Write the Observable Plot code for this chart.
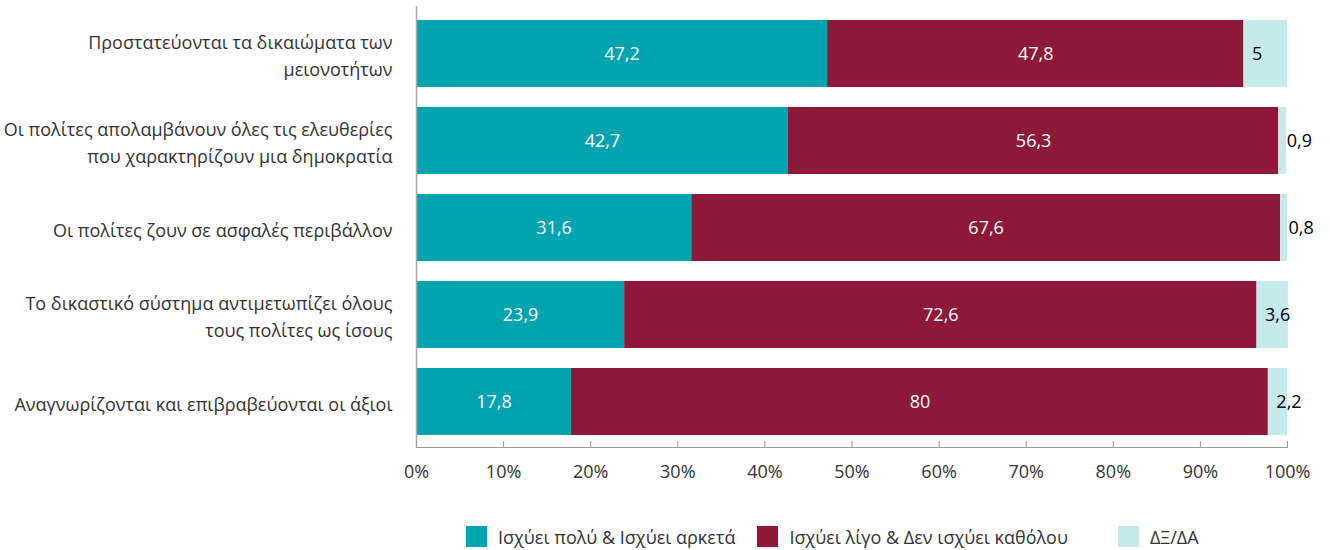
<!DOCTYPE html>
<html>
<head>
<meta charset="utf-8">
<script src="https://cdn.jsdelivr.net/npm/d3@7"></script>
<script src="https://cdn.jsdelivr.net/npm/@observablehq/plot@0.6"></script>
<style>
  html, body { margin: 0; padding: 0; background: #fff; }
  body { width: 1330px; height: 550px; overflow: hidden; font-family: "Open Sans", sans-serif; }
  #legend { position: absolute; left: 466px; top: 526px; height: 21px; display: flex; align-items: center; font-size: 18px; color: #333; }
  #legend .item { display: flex; align-items: center; }
  #legend .sw { width: 21px; height: 21px; margin-right: 11px; }
</style>
</head>
<body>
<div id="chart"></div>
<div id="legend"></div>
<script>
const categories = [
  "Προστατεύονται τα δικαιώματα των\nμειονοτήτων",
  "Οι πολίτες απολαμβάνουν όλες τις ελευθερίες\nπου χαρακτηρίζουν μια δημοκρατία",
  "Οι πολίτες ζουν σε ασφαλές περιβάλλον",
  "Το δικαστικό σύστημα αντιμετωπίζει όλους\nτους πολίτες ως ίσους",
  "Αναγνωρίζονται και επιβραβεύονται οι άξιοι"
];
const seriesNames = ["Ισχύει πολύ & Ισχύει αρκετά", "Ισχύει λίγο & Δεν ισχύει καθόλου", "ΔΞ/ΔΑ"];
const seriesColors = ["#00A3B0", "#8E1838", "#C4EAEC"];
const valuesStrong = [47.2, 42.7, 31.6, 23.9, 17.8];
const valuesWeak = [47.8, 56.3, 67.6, 72.6, 80];
const valuesDk = [5, 0.9, 0.8, 3.6, 2.2];
const xTicks = [0, 10, 20, 30, 40, 50, 60, 70, 80, 90, 100];

const seriesValues = [valuesStrong, valuesWeak, valuesDk];
const data = [];
categories.forEach((c, i) => {
  seriesNames.forEach((s, j) => data.push({cat: c, series: s, value: seriesValues[j][i]}));
});
const fmt = v => String(v).replace(".", ",");

const chart = Plot.plot({
  width: 1330,
  height: 495,
  marginLeft: 416,
  marginRight: 43,
  marginTop: 8,
  marginBottom: 48,
  style: {fontFamily: "'Open Sans', sans-serif", fontSize: "18px", color: "#333", background: "#fff"},
  x: {domain: [0, 100], axis: null},
  y: {domain: categories, range: [19, 435], paddingInner: 0.235, paddingOuter: 0, axis: null},
  color: {domain: seriesNames, range: seriesColors},
  marks: [
    Plot.barX(data, {x: "value", y: "cat", fill: "series"}),
    Plot.text(data, Plot.stackX({x: "value", y: "cat", z: "series",
      text: d => d.series === seriesNames[2] ? null : fmt(d.value),
      fill: "white", fontSize: 18})),
    Plot.text(data, Plot.stackX1({x: "value", y: "cat", z: "series",
      text: d => d.series === seriesNames[2] ? fmt(d.value) : null,
      fill: "#000", fontSize: 18, fontWeight: 500, textAnchor: "start", dx: 8})),
    Plot.axisY({tickSize: 0, tickPadding: 24, fontSize: 18, fill: "#333", lineHeight: 1.5, label: null}),
    Plot.ruleX([0], {stroke: "#aaa", strokeWidth: 1.5, insetTop: -2, insetBottom: -1}),
    Plot.frame({anchor: "bottom", stroke: "#999"}),
    Plot.ruleX(xTicks, {stroke: "#999", insetTop: 433}),
    Plot.axisX(xTicks, {tickSize: 0, tickPadding: 18, tickFormat: d => d + "%", fontSize: 18, fill: "#333", label: null})
  ]
});
document.getElementById("chart").appendChild(chart);

const legendGaps = [22, 50, 0];
const legend = document.getElementById("legend");
seriesNames.forEach((s, j) => {
  const item = document.createElement("div");
  item.className = "item";
  item.style.marginRight = legendGaps[j] + "px";
  const sw = document.createElement("span");
  sw.className = "sw";
  sw.style.background = seriesColors[j];
  const t = document.createElement("span");
  t.textContent = s;
  item.appendChild(sw);
  item.appendChild(t);
  legend.appendChild(item);
});
</script>
</body>
</html>
